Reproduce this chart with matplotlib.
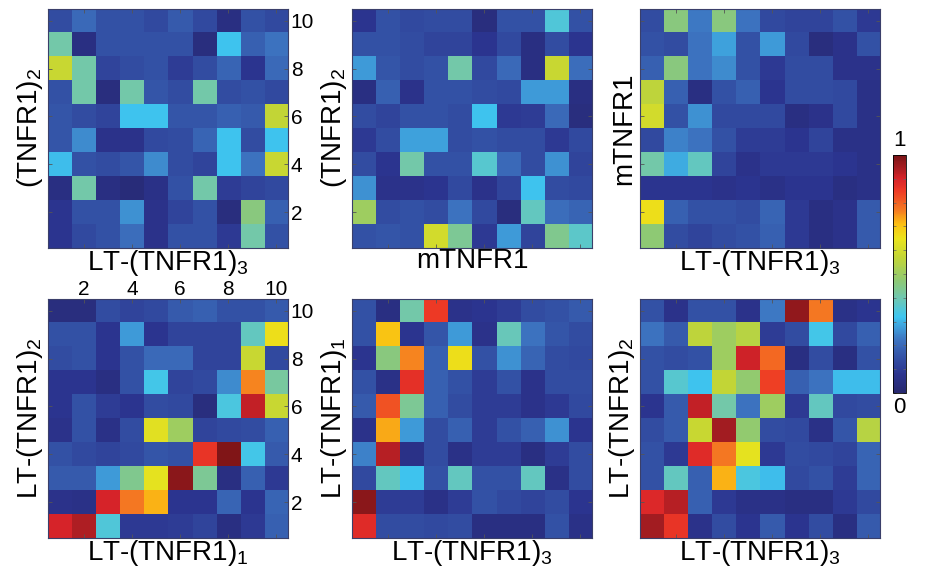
import matplotlib
matplotlib.use("Agg")
import matplotlib.pyplot as plt
import numpy as np
from matplotlib.colors import LinearSegmentedColormap

plt.rcParams['font.family'] = ['Liberation Sans', 'DejaVu Sans']
plt.rcParams['mathtext.fontset'] = 'custom'
plt.rcParams['mathtext.rm'] = 'Liberation Sans'
plt.rcParams['mathtext.it'] = 'Liberation Sans'
plt.rcParams['mathtext.default'] = 'rm'

# rows listed top (10) to bottom (1)
m_top_left = [
    [0.14, 0.20, 0.15, 0.15, 0.13, 0.17, 0.13, 0.05, 0.15, 0.13],
    [0.41, 0.05, 0.15, 0.15, 0.15, 0.15, 0.04, 0.32, 0.18, 0.22],
    [0.58, 0.41, 0.12, 0.14, 0.15, 0.10, 0.14, 0.19, 0.08, 0.20],
    [0.15, 0.41, 0.04, 0.41, 0.16, 0.14, 0.41, 0.14, 0.15, 0.13],
    [0.16, 0.14, 0.12, 0.32, 0.32, 0.16, 0.16, 0.18, 0.17, 0.57],
    [0.16, 0.25, 0.07, 0.07, 0.13, 0.14, 0.19, 0.32, 0.14, 0.32],
    [0.31, 0.15, 0.14, 0.16, 0.25, 0.14, 0.12, 0.32, 0.22, 0.58],
    [0.05, 0.41, 0.05, 0.03, 0.06, 0.15, 0.41, 0.10, 0.12, 0.13],
    [0.08, 0.15, 0.15, 0.26, 0.07, 0.12, 0.15, 0.04, 0.46, 0.18],
    [0.08, 0.13, 0.15, 0.21, 0.07, 0.15, 0.15, 0.09, 0.41, 0.15],
]
m_top_mid = [
    [0.08, 0.15, 0.13, 0.14, 0.14, 0.04, 0.15, 0.15, 0.35, 0.15],
    [0.15, 0.15, 0.14, 0.12, 0.12, 0.08, 0.13, 0.05, 0.14, 0.08],
    [0.27, 0.16, 0.14, 0.15, 0.41, 0.13, 0.20, 0.05, 0.58, 0.21],
    [0.05, 0.18, 0.07, 0.15, 0.15, 0.14, 0.13, 0.27, 0.27, 0.05],
    [0.14, 0.12, 0.15, 0.15, 0.14, 0.32, 0.09, 0.10, 0.20, 0.04],
    [0.09, 0.14, 0.28, 0.28, 0.14, 0.15, 0.14, 0.14, 0.09, 0.13],
    [0.14, 0.08, 0.41, 0.15, 0.15, 0.36, 0.20, 0.14, 0.26, 0.12],
    [0.26, 0.07, 0.07, 0.08, 0.13, 0.07, 0.12, 0.32, 0.14, 0.13],
    [0.50, 0.14, 0.15, 0.14, 0.22, 0.13, 0.04, 0.38, 0.21, 0.19],
    [0.15, 0.16, 0.15, 0.60, 0.43, 0.09, 0.27, 0.12, 0.44, 0.37],
]
m_top_right = [
    [0.14, 0.46, 0.23, 0.46, 0.22, 0.13, 0.12, 0.12, 0.15, 0.09],
    [0.15, 0.14, 0.22, 0.28, 0.15, 0.27, 0.13, 0.04, 0.07, 0.15],
    [0.18, 0.46, 0.22, 0.25, 0.15, 0.09, 0.14, 0.14, 0.07, 0.07],
    [0.56, 0.18, 0.05, 0.15, 0.18, 0.08, 0.14, 0.14, 0.13, 0.06],
    [0.60, 0.15, 0.26, 0.13, 0.13, 0.13, 0.05, 0.07, 0.13, 0.06],
    [0.13, 0.24, 0.22, 0.15, 0.10, 0.10, 0.08, 0.12, 0.06, 0.06],
    [0.41, 0.29, 0.38, 0.12, 0.07, 0.09, 0.09, 0.09, 0.08, 0.06],
    [0.08, 0.08, 0.08, 0.07, 0.08, 0.06, 0.08, 0.08, 0.05, 0.06],
    [0.66, 0.18, 0.15, 0.15, 0.14, 0.19, 0.09, 0.05, 0.07, 0.17],
    [0.47, 0.14, 0.12, 0.14, 0.15, 0.18, 0.09, 0.05, 0.07, 0.17],
]
m_bot_left = [
    [0.04, 0.04, 0.14, 0.12, 0.13, 0.17, 0.18, 0.15, 0.15, 0.17],
    [0.15, 0.15, 0.08, 0.27, 0.08, 0.12, 0.12, 0.12, 0.38, 0.66],
    [0.14, 0.15, 0.08, 0.15, 0.20, 0.20, 0.12, 0.12, 0.58, 0.13],
    [0.08, 0.08, 0.05, 0.15, 0.33, 0.12, 0.13, 0.25, 0.76, 0.42],
    [0.08, 0.15, 0.10, 0.08, 0.14, 0.13, 0.04, 0.34, 0.92, 0.58],
    [0.07, 0.15, 0.06, 0.14, 0.63, 0.50, 0.12, 0.13, 0.14, 0.18],
    [0.15, 0.13, 0.12, 0.13, 0.16, 0.15, 0.86, 0.99, 0.33, 0.17],
    [0.17, 0.17, 0.27, 0.44, 0.64, 0.98, 0.43, 0.05, 0.18, 0.09],
    [0.07, 0.06, 0.90, 0.77, 0.72, 0.08, 0.08, 0.19, 0.08, 0.19],
    [0.90, 0.94, 0.35, 0.09, 0.09, 0.10, 0.12, 0.05, 0.09, 0.18],
]
m_bot_mid = [
    [0.15, 0.05, 0.41, 0.85, 0.07, 0.08, 0.10, 0.14, 0.15, 0.17],
    [0.15, 0.70, 0.08, 0.16, 0.27, 0.07, 0.39, 0.22, 0.16, 0.14],
    [0.08, 0.46, 0.76, 0.18, 0.66, 0.15, 0.26, 0.19, 0.14, 0.13],
    [0.15, 0.06, 0.87, 0.18, 0.15, 0.10, 0.15, 0.07, 0.14, 0.14],
    [0.17, 0.82, 0.43, 0.18, 0.14, 0.10, 0.10, 0.07, 0.09, 0.13],
    [0.07, 0.73, 0.27, 0.14, 0.18, 0.10, 0.15, 0.18, 0.26, 0.08],
    [0.24, 0.93, 0.06, 0.14, 0.06, 0.10, 0.10, 0.05, 0.10, 0.14],
    [0.13, 0.38, 0.32, 0.15, 0.38, 0.15, 0.15, 0.38, 0.06, 0.14],
    [0.98, 0.10, 0.10, 0.06, 0.10, 0.15, 0.13, 0.12, 0.14, 0.08],
    [0.88, 0.14, 0.14, 0.13, 0.14, 0.05, 0.05, 0.05, 0.15, 0.06],
]
m_bot_right = [
    [0.15, 0.07, 0.15, 0.15, 0.07, 0.23, 0.97, 0.77, 0.06, 0.08],
    [0.22, 0.17, 0.56, 0.50, 0.55, 0.10, 0.14, 0.33, 0.13, 0.18],
    [0.15, 0.14, 0.15, 0.50, 0.91, 0.79, 0.05, 0.14, 0.05, 0.15],
    [0.15, 0.36, 0.32, 0.57, 0.48, 0.84, 0.18, 0.22, 0.31, 0.31],
    [0.08, 0.17, 0.92, 0.41, 0.22, 0.50, 0.09, 0.38, 0.13, 0.14],
    [0.14, 0.17, 0.58, 0.95, 0.48, 0.14, 0.13, 0.06, 0.16, 0.55],
    [0.15, 0.09, 0.88, 0.77, 0.64, 0.09, 0.14, 0.13, 0.12, 0.19],
    [0.15, 0.38, 0.18, 0.72, 0.34, 0.31, 0.13, 0.15, 0.10, 0.19],
    [0.89, 0.93, 0.18, 0.09, 0.06, 0.06, 0.05, 0.05, 0.09, 0.13],
    [0.95, 0.86, 0.07, 0.14, 0.08, 0.17, 0.08, 0.14, 0.05, 0.17],
]

x_labels = ["LT-(TNFR1)$_3$", "mTNFR1", "LT-(TNFR1)$_3$",
            "LT-(TNFR1)$_1$", "LT-(TNFR1)$_3$", "LT-(TNFR1)$_3$"]
y_labels = ["(TNFR1)$_2$", "(TNFR1)$_2$", "mTNFR1",
            "LT-(TNFR1)$_2$", "LT-(TNFR1)$_1$", "LT-(TNFR1)$_2$"]
ticks = [2, 4, 6, 8, 10]

# jet-like map as printed
stops = [
    (0.00, "#27286e"), (0.08, "#2c3590"), (0.15, "#3452a6"), (0.22, "#3d73c0"),
    (0.27, "#3f9ad8"), (0.32, "#3ec6f0"), (0.40, "#70c8b0"), (0.47, "#8ec975"),
    (0.57, "#c3d636"), (0.65, "#ebe41c"), (0.71, "#fcc012"), (0.77, "#f57a22"),
    (0.85, "#ee3a25"), (0.90, "#d8242a"), (0.95, "#a51d22"), (1.00, "#7a1416"),
]
cmap = LinearSegmentedColormap.from_list("printjet", stops)

fig = plt.figure(figsize=(9.45, 5.75), dpi=100)
lefts = [0.0508, 0.3725, 0.6772]
bottoms = [0.5687, 0.0643]
w, h = 0.254, 0.416

mats = [m_top_left, m_top_mid, m_top_right, m_bot_left, m_bot_mid, m_bot_right]
im = None
for i, m in enumerate(mats):
    ax = fig.add_axes([lefts[i % 3], bottoms[i // 3], w, h])
    im = ax.imshow(np.array(m), cmap=cmap, vmin=0, vmax=1, origin='upper',
                   extent=(0.5, 10.5, 0.5, 10.5), aspect='auto',
                   interpolation='nearest')
    ax.set_xticks(ticks)
    ax.set_yticks(ticks)
    ax.tick_params(direction='in', length=3, width=0.6, color='#555555',
                   labelsize=15, top=True, right=True,
                   labelbottom=False, labelleft=False, labeltop=False,
                   labelright=False, pad=2)
    if i == 0:
        ax.tick_params(labelright=True)
    if i == 3:
        ax.tick_params(labelright=True)
        ax.tick_params(axis='x', labeltop=True, pad=0)
    for s in ax.spines.values():
        s.set_color('#3a3f6a')
        s.set_linewidth(0.8)
    ax.set_xlabel(x_labels[i], fontsize=20, labelpad=0)
    ax.set_ylabel(y_labels[i], fontsize=20, labelpad=2)

cax = fig.add_axes([0.945, 0.3165, 0.0138, 0.414])
cb = fig.colorbar(im, cax=cax, ticks=np.arange(0, 1.01, 0.1))
cb.ax.tick_params(direction='in', length=2, width=0.5, labelright=False,
                  left=True, color='#666666')
cb.outline.set_linewidth(0.6)
cax.text(0.5, 1.015, "1", transform=cax.transAxes, ha='center', va='bottom',
         fontsize=16)
cax.text(0.5, -0.015, "0", transform=cax.transAxes, ha='center', va='top',
         fontsize=16)

plt.savefig("out.png", dpi=100)
plt.close()
